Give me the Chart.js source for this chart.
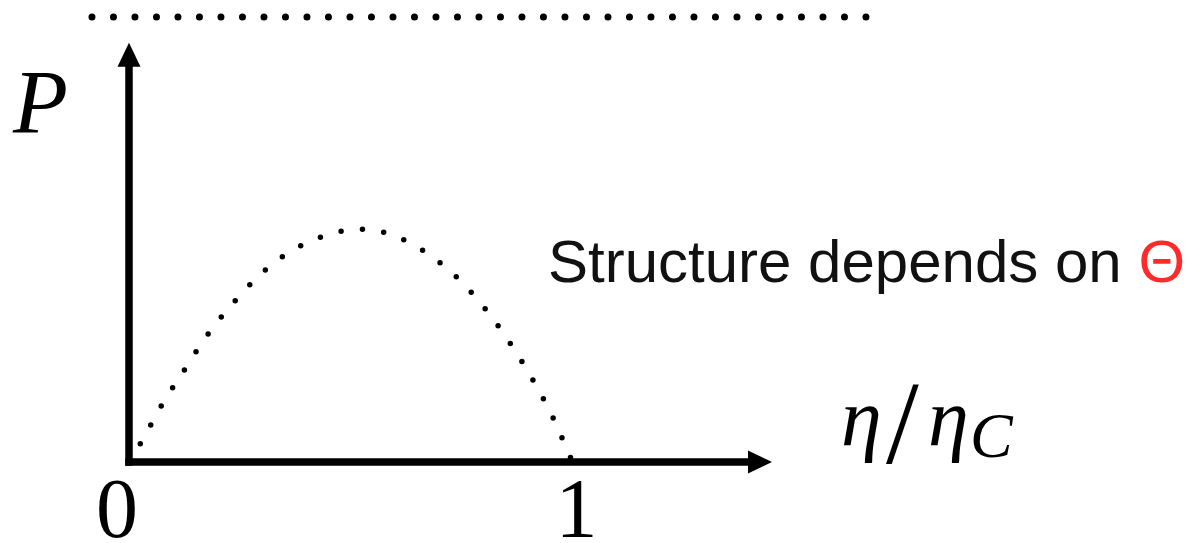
<!DOCTYPE html>
<html>
<head>
<meta charset="utf-8">
<title>P vs efficiency</title>
<script src="https://cdn.jsdelivr.net/npm/chart.js@4/dist/chart.umd.min.js"></script>
<style>
  html, body { margin: 0; padding: 0; background: #fff; }
  canvas { display: block; }
</style>
</head>
<body>
<canvas id="chart" width="1190" height="543"></canvas>
<script>
// efficiency (eta / eta_C) and power, in units of the upper bound
const effValues = [0, 0.026, 0.074, 0.125, 0.178, 0.24, 0.307, 0.387, 0.476, 0.524, 0.572, 0.659, 0.736, 0.802, 0.858, 0.908, 0.954, 1.0];
const powerValues = [0, 0.042, 0.128, 0.207, 0.287, 0.363, 0.431, 0.486, 0.518, 0.523, 0.517, 0.478, 0.418, 0.346, 0.269, 0.189, 0.104, 0];
// the bound line runs past both ends of the axes
const boundEff = [-0.0835, 1.664];
const boundPower = [1, 1];
const tickValues = [0, 1];
const tickLabels = ['0', '1'];
const axisMax = { x: 1.45, y: 0.942 };

const ctx = document.querySelector('#chart').getContext('2d');

const toPoints = (xs, ys) => xs.map((x, i) => ({ x: x, y: ys[i] }));

// black arrow axes, tick numbers and the text labels
const axesPlugin = {
  id: 'arrowAxes',
  beforeDatasetsDraw(chart) {
    const c = chart.ctx;
    const xs = chart.scales.x, ys = chart.scales.y;
    const x0 = xs.getPixelForValue(0), y0 = ys.getPixelForValue(0);
    const xEnd = xs.getPixelForValue(axisMax.x), yEnd = ys.getPixelForValue(axisMax.y);
    const w = 7.5, head = 24, half = 11.5;
    c.save();
    c.fillStyle = '#000';
    // y axis
    c.fillRect(x0 - w / 2, yEnd + head - 2, w, y0 - yEnd - head + 2 + w / 2);
    c.beginPath();
    c.moveTo(x0, yEnd);
    c.lineTo(x0 + half, yEnd + head);
    c.lineTo(x0 - half, yEnd + head);
    c.closePath();
    c.fill();
    // x axis
    c.fillRect(x0 - w / 2, y0 - w / 2, xEnd - head + 2 - x0 + w / 2, w);
    c.beginPath();
    c.moveTo(xEnd, y0);
    c.lineTo(xEnd - head, y0 - half);
    c.lineTo(xEnd - head, y0 + half);
    c.closePath();
    c.fill();

    // tick numbers
    c.font = '84px "Liberation Serif", serif';
    c.textAlign = 'center';
    c.textBaseline = 'alphabetic';
    tickValues.forEach((v, i) => {
      const off = v === 0 ? -12 : 4;
      c.fillText(tickLabels[i], xs.getPixelForValue(v) + off, 537);
    });

    // axis names
    c.textAlign = 'left';
    c.font = 'italic 90px "Liberation Serif", serif';
    c.fillText('P', 13, 133);
    c.font = 'italic 82px "Liberation Serif", serif';
    c.fillText('η', 841, 445);
    c.fillText('η', 928, 445);
    c.font = '118px "Liberation Serif", serif';
    c.fillText('/', 886, 463);
    c.font = 'italic 64px "Liberation Serif", serif';
    c.fillText('C', 970, 457);

    // annotation
    c.font = '60px "Liberation Sans", sans-serif';
    const note = 'Structure depends on ';
    c.fillStyle = '#111';
    c.fillText(note, 548, 282);
    c.fillStyle = '#ff2b2b';
    c.fillText('Θ', 548 + c.measureText(note).width, 282);
    c.restore();
  }
};

const myChart = new Chart(ctx, {
  type: 'line',
  data: {
    datasets: [
      {
        label: 'bound',
        data: toPoints(boundEff, boundPower),
        borderColor: '#000',
        borderWidth: 7,
        borderDash: [0, 21.5],
        borderCapStyle: 'round',
        pointRadius: 0,
        clip: false
      },
      {
        label: 'P',
        data: toPoints(effValues, powerValues),
        borderColor: '#000',
        borderWidth: 5.5,
        borderDash: [0, 21.5],
        borderCapStyle: 'round',
        cubicInterpolationMode: 'monotone',
        pointRadius: 0,
        clip: false
      }
    ]
  },
  options: {
    responsive: false,
    animation: false,
    layout: { padding: { left: 129, right: 418, top: 17, bottom: 81 } },
    plugins: { legend: { display: false }, tooltip: { enabled: false } },
    scales: {
      x: { type: 'linear', min: 0, max: axisMax.x, display: false },
      y: { type: 'linear', min: 0, max: 1, display: false }
    }
  },
  plugins: [axesPlugin]
});
</script>
</body>
</html>
